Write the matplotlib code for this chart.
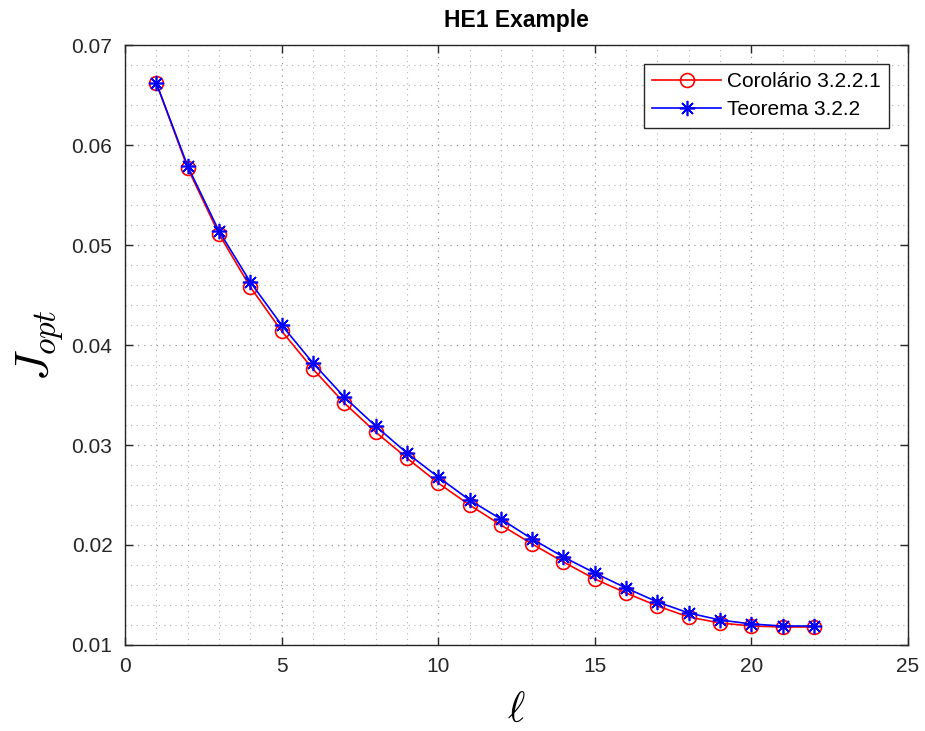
import matplotlib
matplotlib.use("Agg")
import matplotlib.pyplot as plt
from matplotlib.ticker import MultipleLocator, FormatStrFormatter

plt.rcParams['font.family'] = ['Liberation Sans', 'DejaVu Sans']
plt.rcParams['mathtext.fontset'] = 'cm'

ell = list(range(1, 23))
corolario = [0.0662, 0.0577, 0.0511, 0.0458, 0.0414, 0.0376, 0.0342, 0.0313,
             0.0287, 0.0262, 0.0240, 0.0220, 0.0201, 0.0183, 0.0166, 0.0152,
             0.0139, 0.0128, 0.0122, 0.0119, 0.0118, 0.0118]
teorema = [0.0662, 0.0579, 0.0514, 0.0463, 0.0420, 0.0382, 0.0348, 0.0319,
           0.0292, 0.0268, 0.0245, 0.0226, 0.0206, 0.0188, 0.0172, 0.0157,
           0.0143, 0.0132, 0.0125, 0.0121, 0.0119, 0.0119]
labels = ['Corolário 3.2.2.1', 'Teorema 3.2.2']
title = 'HE1 Example'

fig = plt.figure(figsize=(9.25, 7.31), dpi=100)
ax = fig.add_axes([125/925, 1-645/731, (908-125)/925, (645-45)/731])

ax.plot(ell, corolario, color=(1, 0, 0), lw=1.2, marker='o', markersize=10,
        markerfacecolor='none', markeredgecolor=(1, 0, 0), markeredgewidth=1.2,
        label=labels[0])
ax.plot(ell, teorema, color=(0, 0, 1), lw=1.2, marker=(8, 2, 0), markersize=11,
        markeredgecolor=(0, 0, 1), markeredgewidth=1.2, label=labels[1])

ax.set_xlim(0, 25)
ax.set_ylim(0.01, 0.07)
ax.xaxis.set_major_locator(MultipleLocator(5))
ax.xaxis.set_minor_locator(MultipleLocator(1))
ax.yaxis.set_major_locator(MultipleLocator(0.01))
ax.yaxis.set_minor_locator(MultipleLocator(0.002))
ax.yaxis.set_major_formatter(FormatStrFormatter('%.2f'))

dark = (0.15, 0.15, 0.15)
ax.grid(True, which='major', linestyle=(0, (1, 4)), color=(0.6, 0.6, 0.6), lw=0.9)
ax.grid(True, which='minor', linestyle=(0, (1, 4)), color=(0.7, 0.7, 0.7), lw=0.8)
ax.set_axisbelow(True)
ax.tick_params(which='major', direction='in', length=6, width=1, top=True,
               right=True, labelsize=15, colors=dark, pad=9)
ax.tick_params(which='minor', length=0, top=True, right=True)
for s in ax.spines.values():
    s.set_color(dark)
    s.set_linewidth(1.0)

ax.set_title(title, fontsize=16.5, fontweight='bold', color='black', pad=13)
ax.set_xlabel(r'$\ell$', fontsize=30, labelpad=10)
ax.set_ylabel(r'$J_{opt}$', fontsize=34, labelpad=4)

leg = ax.legend(loc='upper right', fontsize=15, frameon=True, fancybox=False,
                edgecolor=dark, framealpha=1, handlelength=3.3,
                borderaxespad=0.9, borderpad=0.4, labelspacing=0.45,
                handletextpad=0.3)
leg.get_frame().set_linewidth(1.0)

fig.savefig('out.png', dpi=100)
